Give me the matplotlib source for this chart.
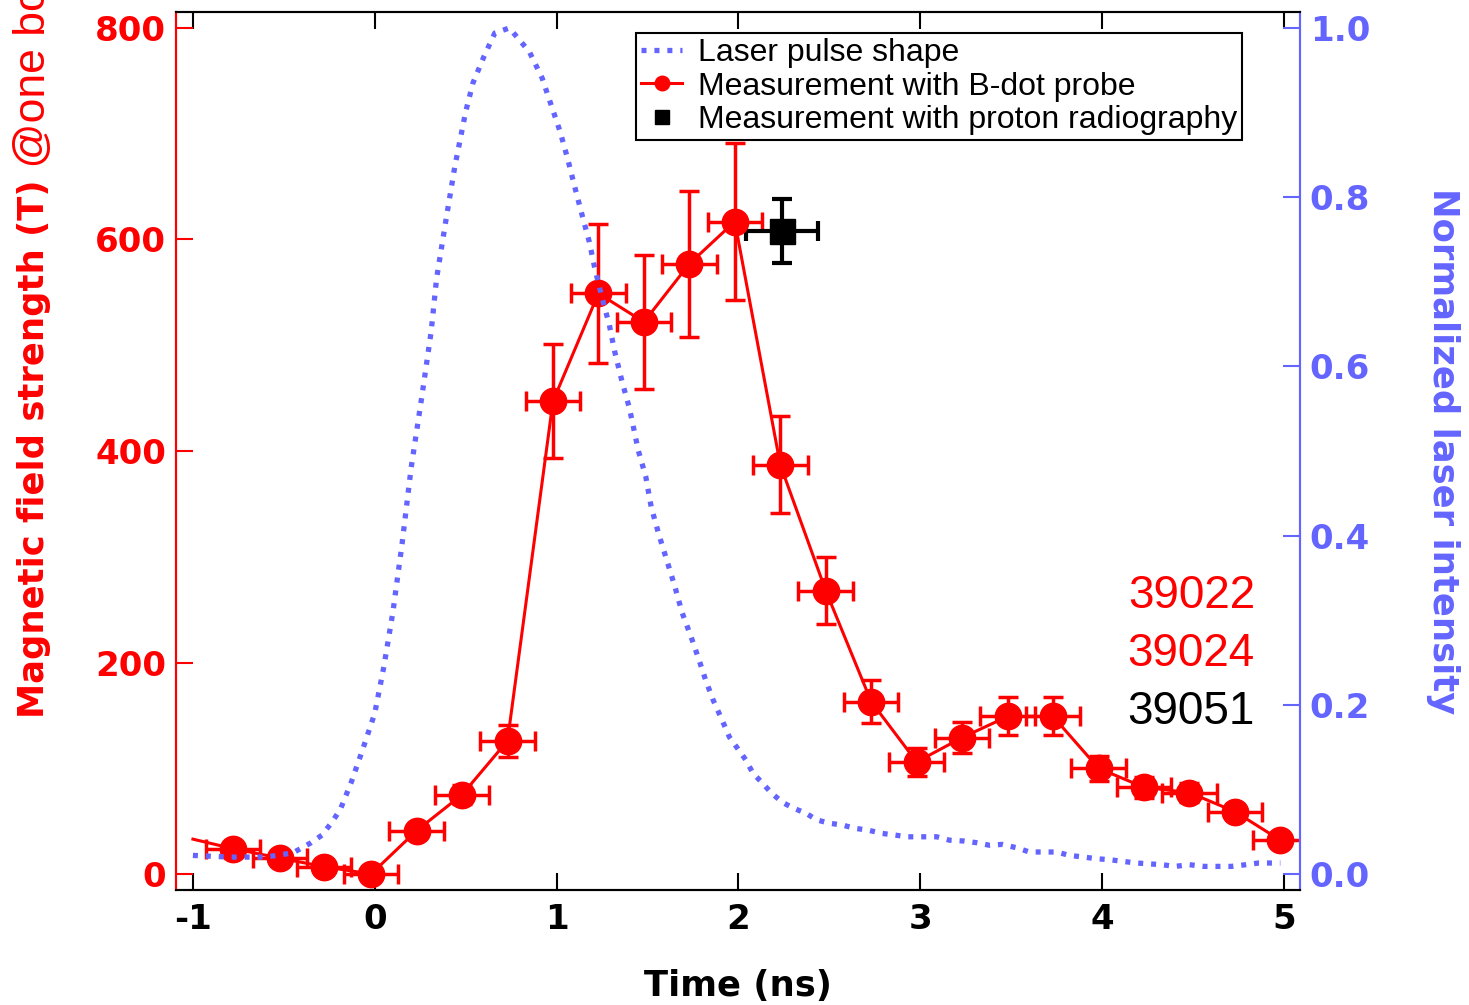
import matplotlib
matplotlib.use("Agg")
import matplotlib.pyplot as plt

plt.rcParams["axes.unicode_minus"] = False

# B-dot probe measurements (Time in ns, B in T)
bdot_t = [-1.0, -0.78, -0.52, -0.28, -0.02, 0.23, 0.48, 0.73, 0.98, 1.23, 1.48, 1.73,
          1.98, 2.23, 2.48, 2.73, 2.98, 3.23, 3.48, 3.73, 3.98, 4.23, 4.48, 4.73, 4.98]
bdot_b = [33, 24, 15, 7, 0, 41, 75, 126, 447, 549, 522, 577,
          617, 387, 268, 163, 106, 129, 149, 149, 100, 82, 77, 59, 32]
bdot_berr = [0, 3, 2, 1, 0, 5, 9, 15, 54, 66, 63, 69,
             74, 46, 32, 20, 13, 15, 18, 18, 12, 10, 9, 7, 4]
bdot_terr = 0.15

# proton radiography
prad_t = [2.24]
prad_b = [608]
prad_terr = [0.2]
prad_berr = [30]

# normalized laser pulse
laser_t = [-1.0, -0.8, -0.6, -0.45, -0.35, -0.29, -0.24, -0.19, -0.13, -0.07, 0.0, 0.05,
           0.1, 0.15, 0.2, 0.26, 0.31, 0.34, 0.39, 0.44, 0.50, 0.54, 0.60, 0.66, 0.74,
           0.85, 0.92, 0.97, 1.02, 1.06, 1.10, 1.14, 1.18, 1.21, 1.25, 1.29, 1.32, 1.36,
           1.40, 1.45, 1.49, 1.52, 1.56, 1.60, 1.65, 1.69, 1.74, 1.78, 1.82, 1.86, 1.91,
           1.95, 2.0, 2.04, 2.08, 2.13, 2.18, 2.24, 2.30, 2.37, 2.43, 2.50, 2.57, 2.64,
           2.71, 2.79, 2.86, 2.93, 3.0, 3.09, 3.16, 3.24, 3.31, 3.38, 3.45, 3.53, 3.60,
           3.67, 3.75, 3.82, 3.90, 3.97, 4.04, 4.11, 4.19, 4.26, 4.33, 4.40, 4.48, 4.56,
           4.64, 4.71, 4.79, 4.86, 4.93, 4.98]
laser_i = [0.022, 0.020, 0.020, 0.025, 0.037, 0.046, 0.060, 0.076, 0.108, 0.145, 0.19, 0.245,
           0.31, 0.39, 0.48, 0.566, 0.641, 0.704, 0.771, 0.836, 0.901, 0.935, 0.966, 0.994, 1.0,
           0.972, 0.941, 0.909, 0.877, 0.846, 0.812, 0.779, 0.747, 0.716, 0.681, 0.649, 0.617, 0.582,
           0.551, 0.50, 0.470, 0.434, 0.403, 0.375, 0.340, 0.309, 0.28, 0.255, 0.229, 0.206, 0.182,
           0.162, 0.147, 0.135, 0.119, 0.108, 0.096, 0.085, 0.078, 0.072, 0.064, 0.060, 0.058, 0.054,
           0.052, 0.048, 0.046, 0.044, 0.044, 0.044, 0.040, 0.039, 0.037, 0.034, 0.035, 0.031, 0.026,
           0.026, 0.026, 0.022, 0.020, 0.018, 0.017, 0.015, 0.013, 0.012, 0.011, 0.009, 0.011, 0.009,
           0.009, 0.009, 0.011, 0.013, 0.013, 0.013]

shots = ["39022", "39024", "39051"]
shot_colors = ["red", "red", "black"]
shot_y = [263, 208, 153]

RED = "#ff0000"
BLUE = "#6464ff"

fig = plt.figure(figsize=(14.69, 10.05), dpi=100)
ax = fig.add_axes([176/1469, 1-890/1005, 1124/1469, 878/1005])
ax2 = ax.twinx()

ax.errorbar(bdot_t[1:], bdot_b[1:], xerr=bdot_terr, yerr=bdot_berr[1:], fmt="none",
            ecolor=RED, elinewidth=2.5, capsize=7, capthick=2.5, zorder=2)
ln_b, = ax.plot(bdot_t, bdot_b, "-", color=RED, lw=2.2, marker="o", ms=19,
                markevery=list(range(1, len(bdot_t))), zorder=3,
                label="Measurement with B-dot probe")
ax.errorbar(prad_t, prad_b, xerr=prad_terr, yerr=prad_berr, fmt="none",
            ecolor="black", elinewidth=3, capsize=7, capthick=3, zorder=2)
ln_p, = ax.plot(prad_t, prad_b, "s", color="black", ms=18, zorder=3,
                label="Measurement with proton radiography")

ln_l, = ax2.plot(laser_t, laser_i, color=BLUE, lw=3.8, linestyle=(0, (0.95, 1.5)),
                 label="Laser pulse shape")

for s, c, y in zip(shots, shot_colors, shot_y):
    ax.text(4.84, y, s, color=c, fontsize=33, family="Liberation Sans",
            ha="right", va="center")

ax.set_xlim(-1.093, 5.088)
ax.set_ylim(-15.1, 815.1)
ax2.set_ylim(-0.0189, 1.0189)

ax.set_xticks([-1, 0, 1, 2, 3, 4, 5])
ax.set_yticks([0, 200, 400, 600, 800])
ax2.set_yticks([0.0, 0.2, 0.4, 0.6, 0.8, 1.0])
ax2.set_yticklabels(["0.0", "0.2", "0.4", "0.6", "0.8", "1.0"])

ax.tick_params(axis="x", direction="in", length=12, width=1.5, top=True, labelsize=24.5,
               pad=9, colors="black")
ax.tick_params(axis="y", direction="in", length=12, width=1.5, labelsize=24.5,
               pad=7, colors=RED)
ax2.tick_params(axis="y", direction="in", length=12, width=1.5, labelsize=24.5,
                pad=7, colors=BLUE)
for lab in ax.get_xticklabels() + ax.get_yticklabels() + ax2.get_yticklabels():
    lab.set_fontweight("bold")

for a in (ax, ax2):
    for sp in a.spines.values():
        sp.set_linewidth(1.5)
ax.spines["left"].set_color(RED)
ax2.spines["left"].set_color(RED)
ax2.spines["right"].set_color(BLUE)
ax.spines["right"].set_color(BLUE)

ax.set_xlabel("Time (ns)", fontsize=25.5, fontweight="bold", labelpad=24)
ax2.set_ylabel("Normalized laser intensity", fontsize=25.5, fontweight="bold",
               color=BLUE, rotation=-90, va="bottom", labelpad=40)

t1 = fig.text(34/1469, 1-718/1005, "Magnetic field strength (T)", rotation=90,
              ha="center", va="bottom", fontsize=25.5, fontweight="bold", color=RED)
ax.annotate(" @one board", xy=(0.5, 1.0), xycoords=t1, rotation=90, ha="center",
            va="bottom", fontsize=32, family="Liberation Sans", color=RED,
            annotation_clip=False)

leg = ax2.legend(handles=[ln_l, ln_b, ln_p], loc="upper left",
                 bbox_to_anchor=((636-176)/1124, (890-33)/878), borderaxespad=0,
                 prop={"family": "Liberation Sans", "size": 23}, frameon=True,
                 fancybox=False, edgecolor="black", framealpha=1, markerscale=0.55,
                 handlelength=1.3, handletextpad=0.5, labelspacing=0.12, borderpad=0.15)
leg.get_frame().set_linewidth(1.5)

fig.savefig("out.png", dpi=100)
